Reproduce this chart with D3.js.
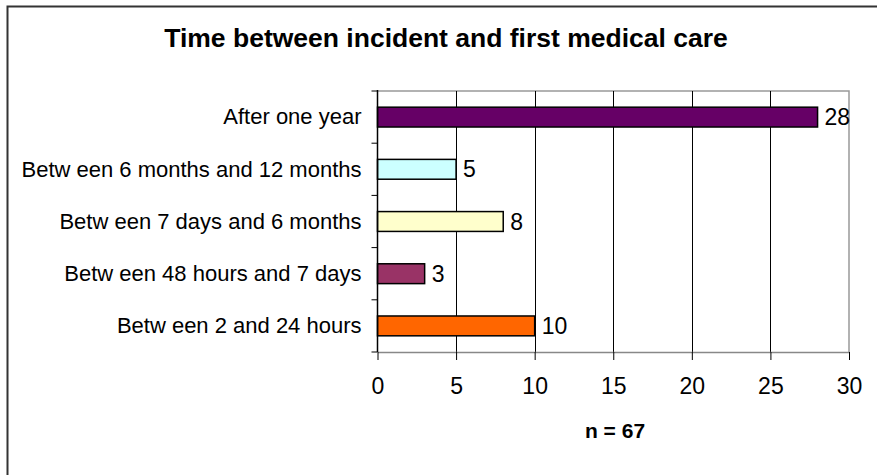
<!DOCTYPE html>
<html lang="en">
<head>
<meta charset="UTF-8">
<script src="https://d3js.org/d3.v7.min.js"></script>
<style>
  body { margin: 0; background: #fff; }
  svg { display: block; font-family: "Liberation Sans", Arial, sans-serif; }
</style>
</head>
<body>
<svg width="877" height="475"></svg>
<script>
// data (top to bottom)
var categories = [
  "After one year",
  "Betw een 6 months and 12 months",
  "Betw een 7 days and 6 months",
  "Betw een 48 hours and 7 days",
  "Betw een 2 and 24 hours"
];
var counts = [28, 5, 8, 3, 10];
var barColors = ["#660066", "#CCFFFF", "#FFFFCC", "#993366", "#FF6600"];
var xTicks = [0, 5, 10, 15, 20, 25, 30];
var titleText = "Time between incident and first medical care";
var noteText = "n = 67";

var svg = d3.select("svg");
var W = +svg.attr("width"), H = +svg.attr("height");

// outer frame (runs off right and bottom, like the screenshot)
svg.append("rect")
  .attr("x", 7.5).attr("y", 6.5)
  .attr("width", W + 20).attr("height", H + 20)
  .attr("fill", "#fff").attr("stroke", "#333").attr("stroke-width", 2);

var plot = {left: 377.5, right: 849, top: 91, bottom: 352};

var x = d3.scaleLinear().domain([0, 30]).range([plot.left, plot.right]);
var y = d3.scaleBand().domain(categories).range([plot.top, plot.bottom]).paddingInner(0.62).paddingOuter(0.31);

// plot border top/right (gray)
svg.append("path")
  .attr("d", "M" + plot.left + "," + plot.top + "H" + plot.right + "V" + plot.bottom)
  .attr("fill", "none").attr("stroke", "#999").attr("stroke-width", 1.5);

// vertical gridlines
svg.append("g").selectAll("line")
  .data(xTicks.filter(function(t) { return t > 0 && t < 30; }))
  .join("line")
  .attr("x1", function(d) { return Math.round(x(d)) + 0.5; })
  .attr("x2", function(d) { return Math.round(x(d)) + 0.5; })
  .attr("y1", plot.top).attr("y2", plot.bottom)
  .attr("stroke", "#000").attr("stroke-width", 1);

// bars
svg.append("g").selectAll("rect")
  .data(categories)
  .join("rect")
  .attr("x", x(0))
  .attr("y", function(d) { return y(d); })
  .attr("width", function(d, i) { return x(counts[i]) - x(0); })
  .attr("height", y.bandwidth())
  .attr("fill", function(d, i) { return barColors[i]; })
  .attr("stroke", "#000").attr("stroke-width", 1.5);

// value labels
svg.append("g").selectAll("text")
  .data(categories)
  .join("text")
  .attr("x", function(d, i) { return x(counts[i]) + 7; })
  .attr("y", function(d) { return y(d) + y.bandwidth() / 2; })
  .attr("dy", "0.35em")
  .attr("font-size", 23)
  .text(function(d, i) { return counts[i]; });

// bottom axis
var xAxis = svg.append("g")
  .attr("transform", "translate(0," + plot.bottom + ")")
  .call(d3.axisBottom(x).tickValues(xTicks).tickSize(8).tickPadding(18).tickSizeOuter(0));
xAxis.select(".domain").attr("stroke", "#888").attr("stroke-width", 1.5);
xAxis.selectAll(".tick line").attr("stroke", "#000");
xAxis.selectAll(".tick text").attr("font-size", 23).attr("font-family", "Liberation Sans, Arial, sans-serif").attr("fill", "#000");

// left axis: line + ticks at band boundaries
var bounds = d3.range(categories.length + 1).map(function(i) {
  return plot.top + i * (plot.bottom - plot.top) / categories.length;
});
svg.append("line")
  .attr("x1", plot.left).attr("x2", plot.left)
  .attr("y1", plot.top - 1).attr("y2", plot.bottom)
  .attr("stroke", "#000").attr("stroke-width", 1.5);
svg.append("g").selectAll("line")
  .data(bounds)
  .join("line")
  .attr("x1", plot.left - 6).attr("x2", plot.left)
  .attr("y1", function(d) { return d; }).attr("y2", function(d) { return d; })
  .attr("stroke", "#000").attr("stroke-width", 1);

// category labels
svg.append("g").selectAll("text")
  .data(categories)
  .join("text")
  .attr("x", plot.left - 16)
  .attr("y", function(d) { return y(d) + y.bandwidth() / 2; })
  .attr("dy", "0.33em")
  .attr("text-anchor", "end")
  .attr("font-size", 22)
  .text(function(d) { return d; });

// title
svg.append("text")
  .attr("x", 446).attr("y", 47)
  .attr("text-anchor", "middle")
  .attr("font-size", 26.5).attr("font-weight", "bold")
  .text(titleText);

// sample size note
svg.append("text")
  .attr("x", 615).attr("y", 438)
  .attr("text-anchor", "middle")
  .attr("font-size", 21).attr("font-weight", "bold")
  .text(noteText);
</script>
</body>
</html>
